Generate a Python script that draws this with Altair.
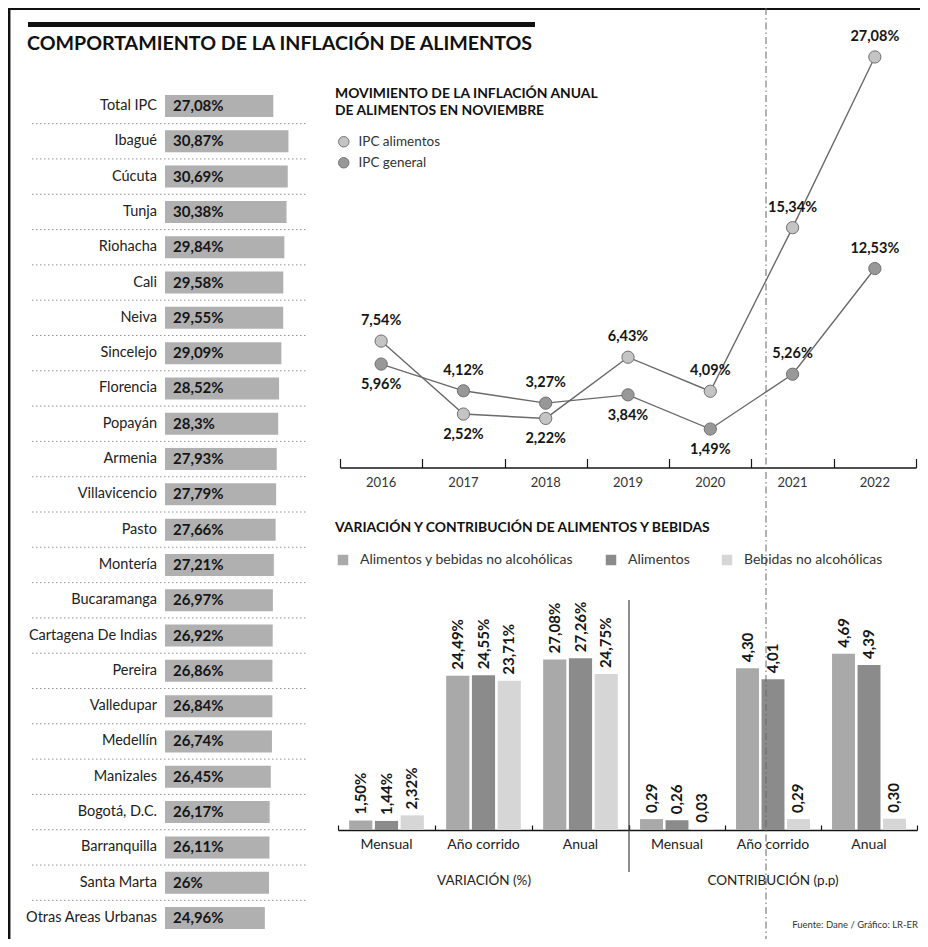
import altair as alt
import pandas as pd

# ---------------- data ----------------
CITIES = ["Total IPC", "Ibagué", "Cúcuta", "Tunja", "Riohacha", "Cali", "Neiva",
          "Sincelejo", "Florencia", "Popayán", "Armenia", "Villavicencio", "Pasto",
          "Montería", "Bucaramanga", "Cartagena De Indias", "Pereira", "Valledupar",
          "Medellín", "Manizales", "Bogotá, D.C.", "Barranquilla", "Santa Marta",
          "Otras Areas Urbanas"]
CITY_VALUES = [27.08, 30.87, 30.69, 30.38, 29.84, 29.58, 29.55, 29.09, 28.52, 28.3,
               27.93, 27.79, 27.66, 27.21, 26.97, 26.92, 26.86, 26.84, 26.74, 26.45,
               26.17, 26.11, 26.0, 24.96]

YEARS = [2016, 2017, 2018, 2019, 2020, 2021, 2022]
IPC_ALIMENTOS = [7.54, 2.52, 2.22, 6.43, 4.09, 15.34, 27.08]
IPC_GENERAL = [5.96, 4.12, 3.27, 3.84, 1.49, 5.26, 12.53]
LINE_SERIES = ["IPC alimentos", "IPC general"]
LABEL_BELOW = {"IPC alimentos": [2017, 2018], "IPC general": [2016, 2019, 2020]}

PERIODS = ["Mensual", "Año corrido", "Anual"]
GROUPS = ["Alimentos y bebidas no alcohólicas", "Alimentos", "Bebidas no alcohólicas"]
VAR_ALIM_BEB = [1.50, 24.49, 27.08]
VAR_ALIM = [1.44, 24.55, 27.26]
VAR_BEB = [2.32, 23.71, 24.75]
CON_ALIM_BEB = [0.29, 4.30, 4.69]
CON_ALIM = [0.26, 4.01, 4.39]
CON_BEB = [0.03, 0.29, 0.30]


def es(v, fmt):
    return format(v, fmt).replace(".", ",")


city_df = pd.DataFrame({"city": CITIES, "value": CITY_VALUES})
city_df["label"] = [es(v, "g") + "%" for v in CITY_VALUES]

rows = []
for s, vals in zip(LINE_SERIES, [IPC_ALIMENTOS, IPC_GENERAL]):
    for y, v in zip(YEARS, vals):
        rows.append({"series": s, "year": y, "ylab": str(y), "value": v,
                     "label": es(v, ".2f") + "%",
                     "pos": "below" if y in LABEL_BELOW[s] else "above"})
line_df = pd.DataFrame(rows)


def bar_df(series_lists, suffix):
    out = []
    for g, vals in zip(GROUPS, series_lists):
        for p, v in zip(PERIODS, vals):
            out.append({"group": g, "period": p, "value": v,
                        "label": es(v, ".2f") + suffix})
    return pd.DataFrame(out)


var_df = bar_df([VAR_ALIM_BEB, VAR_ALIM, VAR_BEB], "%")
con_df = bar_df([CON_ALIM_BEB, CON_ALIM, CON_BEB], "")

# ---------------- styling ----------------
W, H = 912, 931
FONT = "Lato"
INK = "#161616"
one = pd.DataFrame({"k": [0]})

# ---------------- left list ----------------
city_scale = alt.Scale(domain=CITIES, range=[80.35, 927.65], paddingInner=0, paddingOuter=0)
cy = alt.Y("city:N", scale=city_scale, axis=None)
cx = alt.X("value:Q", scale=alt.Scale(domain=[0, 40], range=[157, 317], nice=False, zero=True), axis=None)

city_bars = alt.Chart().mark_bar(height=22, color="#b0b0b0").encode(x=cx, y=cy)
city_names = alt.Chart().mark_text(align="right", baseline="middle", font=FONT, fontSize=14.5,
                                   color="#222").encode(y=cy, x=alt.value(149), text="city:N")
city_vals = alt.Chart().mark_text(align="left", baseline="middle", font=FONT, fontSize=15,
                                  fontWeight="bold", color=INK).encode(y=cy, x=alt.value(165), text="label:N")
city_seps = alt.Chart().mark_rule(strokeDash=[1.5, 2.5], color="#777", strokeWidth=0.8).encode(
    y=alt.Y("city:N", scale=city_scale, axis=None, bandPosition=1),
    x=alt.value(24), x2=alt.value(300)
).transform_filter(alt.datum.city != CITIES[-1])
city_layer = alt.layer(city_seps, city_bars, city_names, city_vals, data=city_df)

# ---------------- line chart ----------------
year_scale = alt.Scale(type="band", domain=YEARS, range=[332, 908], paddingInner=0, paddingOuter=0)
year_axis = alt.Axis(orient="top", offset=-459.5, labels=False, title=None, tickBand="extent",
                     tickSize=9, tickColor=INK, tickWidth=1.2, domainColor=INK, domainWidth=1.6,
                     grid=False)
xy = alt.X("year:O", scale=year_scale, axis=year_axis, bandPosition=0.5)
yy = alt.Y("value:Q", scale=alt.Scale(domain=[-1.155, 28], range=[459.5, 35.6], nice=False, zero=False),
           axis=None)

lines = alt.Chart().mark_line(color="#6a6a6a", strokeWidth=1.4).encode(x=xy, y=yy, detail="series:N")
pts = alt.Chart().mark_circle(size=150, stroke="#707070", strokeWidth=1, opacity=1).encode(
    x=xy, y=yy,
    fill=alt.Fill("series:N", scale=alt.Scale(domain=LINE_SERIES, range=["#c4c4c4", "#989898"]),
                  legend=alt.Legend(orient="none", legendX=329, legendY=127, title=None,
                                    symbolType="circle", symbolSize=110, symbolStrokeColor="#777",
                                    symbolStrokeWidth=1, labelFont=FONT, labelFontSize=13.5,
                                    labelColor="#333", rowPadding=6, labelOffset=8))
)
lab_above = alt.Chart().mark_text(font=FONT, fontWeight="bold", fontSize=14.5, color=INK, dy=-20).encode(
    x=xy, y=yy, text="label:N").transform_filter(alt.datum.pos == "above")
lab_below = alt.Chart().mark_text(font=FONT, fontWeight="bold", fontSize=14.5, color=INK, dy=21).encode(
    x=xy, y=yy, text="label:N").transform_filter(alt.datum.pos == "below")
year_text = alt.Chart().mark_text(font=FONT, fontSize=13, color="#333", baseline="middle").encode(
    x=xy, y=alt.value(475), text="ylab:N").transform_filter(alt.datum.series == LINE_SERIES[0])
line_layer = alt.layer(lines, pts, lab_above, lab_below, year_text, data=line_df)

# ---------------- bar panels ----------------
bar_legend = alt.Legend(orient="none", legendX=328, legendY=545, direction="horizontal", columns=3,
                        title=None, symbolType="square", symbolSize=110, symbolStrokeWidth=0,
                        labelFont=FONT, labelFontSize=14, labelColor="#333", labelLimit=400,
                        columnPadding=30, labelOffset=10)
bar_color = alt.Scale(domain=GROUPS, range=["#a9a9a9", "#8b8b8b", "#d6d6d6"])


def bar_panel(df, x_range, y_domain, y_range):
    pscale = alt.Scale(domain=PERIODS, range=x_range, paddingInner=0, paddingOuter=0)
    paxis = alt.Axis(orient="top", offset=-822, labels=False, title=None, tickBand="extent",
                     tickSize=5, tickColor=INK, tickWidth=1.2, domainColor=INK, domainWidth=1.6,
                     grid=False)
    x = alt.X("period:N", scale=pscale, axis=paxis)
    xo = alt.XOffset("group:N", scale=alt.Scale(domain=GROUPS, paddingInner=0.1, paddingOuter=0.433))
    y = alt.Y("value:Q", scale=alt.Scale(domain=y_domain, range=y_range, nice=False, zero=True), axis=None)
    bars = alt.Chart().mark_bar().encode(
        x=x, xOffset=xo, y=y, color=alt.Color("group:N", scale=bar_color, legend=bar_legend))
    labels = alt.Chart().mark_text(angle=270, align="left", baseline="middle", dx=6, font=FONT,
                                   fontWeight="bold", fontSize=15, color=INK).encode(
        x=x, xOffset=xo, y=y, text="label:N")
    cats = alt.Chart().mark_text(font=FONT, fontSize=14, color="#222", baseline="middle").encode(
        x=x, y=alt.value(837), text="period:N").transform_filter(alt.datum.group == GROUPS[0])
    return alt.layer(bars, labels, cats, data=df)


var_layer = bar_panel(var_df, [330, 621], [0, 30], [822, 633])
con_layer = bar_panel(con_df, [621, 909], [0, 5], [822, 634])


# ---------------- decorations & titles ----------------
def rule(x1, x2, y1, y2, **kw):
    return alt.Chart(one).mark_rule(**kw).encode(
        x=alt.value(x1), x2=alt.value(x2), y=alt.value(y1), y2=alt.value(y2))


def txt(x, y, s, **kw):
    return alt.Chart(one).mark_text(font=FONT, **kw).encode(
        x=alt.value(x), y=alt.value(y), text=alt.value(s))


decor = [
    rule(1.2, 1.2, 0, H, color="#111", strokeWidth=2.5),
    rule(0, W, 1, 1, color="#111", strokeWidth=2),
    rule(20, 527, 16.5, 16.5, color="#111", strokeWidth=5),
    rule(758, 758, 0, H, color="#666", strokeWidth=1, strokeDash=[7, 3, 1.5, 3]),
    rule(621, 621, 592, 864, color="#444", strokeWidth=1.2),
    txt(19, 42, "COMPORTAMIENTO DE LA INFLACIÓN DE ALIMENTOS", align="left",
        baseline="alphabetic", fontWeight="bold", fontSize=19.6, color="#111"),
    txt(327, 90, ["MOVIMIENTO DE LA INFLACIÓN ANUAL", "DE ALIMENTOS EN NOVIEMBRE"], align="left",
        baseline="alphabetic", fontWeight="bold", fontSize=13.9, lineHeight=17, color="#111"),
    txt(327, 524, "VARIACIÓN Y CONTRIBUCIÓN DE ALIMENTOS Y BEBIDAS", align="left",
        baseline="alphabetic", fontWeight="bold", fontSize=13.9, color="#111"),
    txt(476, 873, "VARIACIÓN (%)", align="center", baseline="middle", fontSize=13.5, color="#222"),
    txt(765, 873, "CONTRIBUCIÓN (p.p)", align="center", baseline="middle", fontSize=13.5, color="#222"),
    txt(910, 917, "Fuente: Dane / Gráfico: LR-ER", align="right", baseline="middle", fontSize=9.5,
        color="#333"),
]

chart = alt.layer(city_layer, line_layer, var_layer, con_layer, *decor).resolve_scale(
    x="independent", y="independent", xOffset="independent"
).properties(
    width=W, height=H, padding=0, autosize=alt.AutoSizeParams(type="none"), background="white"
).configure_view(stroke=None)

chart.save("out.html", embed_options={"renderer": "svg", "actions": False})
